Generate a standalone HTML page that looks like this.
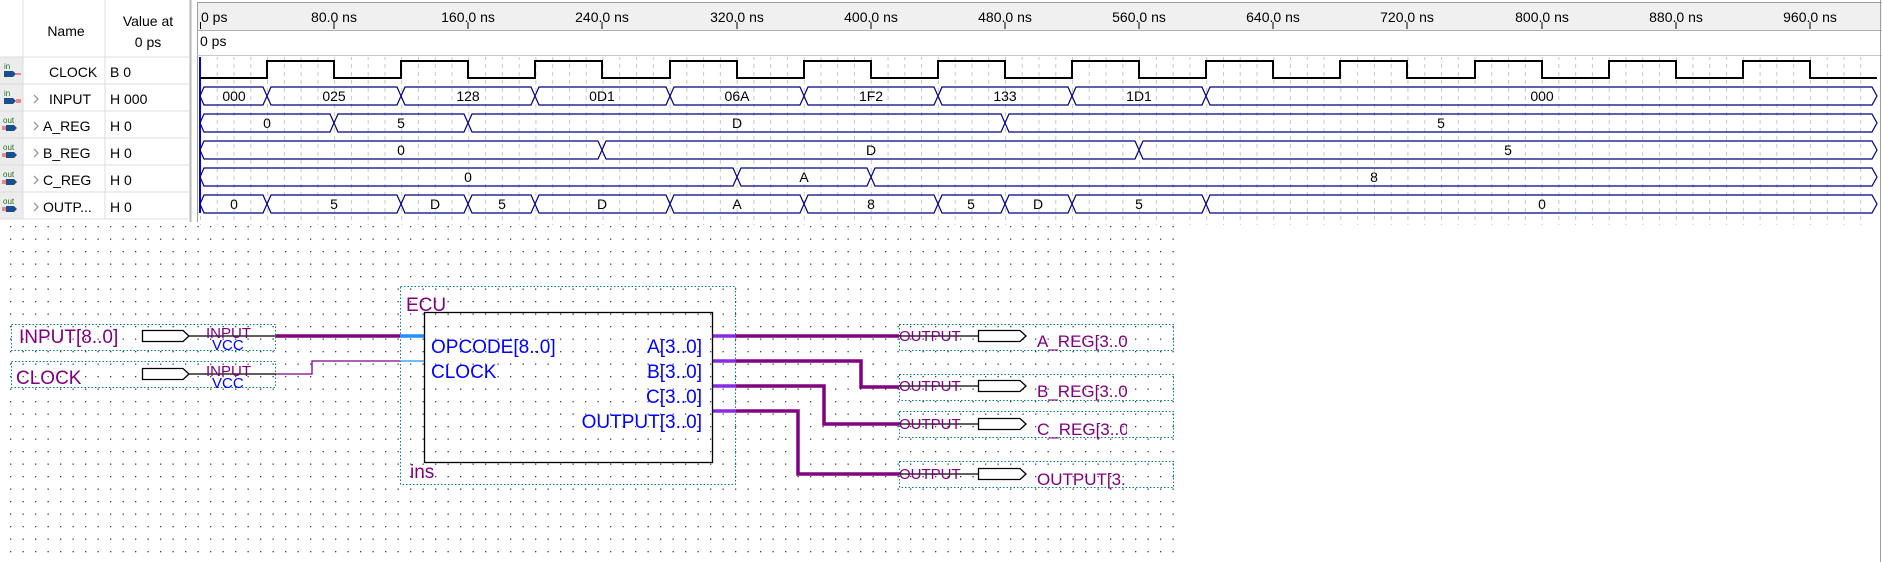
<!DOCTYPE html>
<html><head><meta charset="utf-8"><style>
html,body{margin:0;padding:0;background:#fff;width:1882px;height:562px;overflow:hidden}
svg{display:block}
text{font-family:"Liberation Sans","DejaVu Sans",sans-serif}
</style></head><body>
<svg width="1882" height="562" viewBox="0 0 1882 562" xmlns="http://www.w3.org/2000/svg">
<defs>
<pattern id="dots" x="10" y="226" width="12.5" height="12.5" patternUnits="userSpaceOnUse"><rect x="0" y="0" width="1.3" height="1.3" fill="#404040"/></pattern>
<pattern id="vgrid" x="200" y="0" width="16.77" height="8" patternUnits="userSpaceOnUse"><rect x="0" y="0" width="1" height="4" fill="#c8c8c8"/></pattern>
<clipPath id="c1"><rect x="1030" y="320" width="97" height="175"/></clipPath>
</defs>
<rect x="0" y="0" width="192" height="222" fill="#fff"/>
<rect x="0" y="57" width="23" height="162" fill="#ececec"/>
<line x1="23" y1="0" x2="23" y2="219" stroke="#dcdcdc"/>
<line x1="105" y1="0" x2="105" y2="219" stroke="#dcdcdc"/>
<line x1="190.5" y1="0" x2="190.5" y2="222" stroke="#b8b8b8" stroke-width="2"/>
<g stroke="#dcdcdc"><line x1="0" y1="57" x2="190" y2="57"/><line x1="0" y1="84" x2="190" y2="84"/><line x1="0" y1="111" x2="190" y2="111"/><line x1="0" y1="138" x2="190" y2="138"/><line x1="0" y1="165" x2="190" y2="165"/><line x1="0" y1="192" x2="190" y2="192"/><line x1="0" y1="219" x2="190" y2="219"/></g>
<g font-size="14" fill="#000">
<text x="66" y="36" text-anchor="middle">Name</text>
<text x="148" y="26" text-anchor="middle">Value at</text>
<text x="148" y="47" text-anchor="middle">0 ps</text>
<text x="49" y="77">CLOCK</text><text x="110" y="77">B 0</text>
<text x="49" y="104">INPUT</text><text x="110" y="104">H 000</text>
<text x="43" y="131">A_REG</text><text x="110" y="131">H 0</text>
<text x="43" y="158">B_REG</text><text x="110" y="158">H 0</text>
<text x="43" y="185">C_REG</text><text x="110" y="185">H 0</text>
<text x="43" y="212">OUTP...</text><text x="110" y="212">H 0</text>
</g>
<g fill="none" stroke="#999" stroke-width="1.3"><path d="M34 95 l4 4 l-4 4"/><path d="M34 122 l4 4 l-4 4"/><path d="M34 149 l4 4 l-4 4"/><path d="M34 176 l4 4 l-4 4"/><path d="M34 203 l4 4 l-4 4"/></g>
<g font-size="8" fill="#207020">
<text x="4" y="69">in</text><text x="4" y="96">in</text>
<text x="3" y="123">out</text><text x="3" y="150">out</text><text x="3" y="177">out</text><text x="3" y="204">out</text>
</g>
<g fill="#1a4f8f">
<path d="M4 71 h9 l3 3 l-3 3 h-9z"/><path d="M4 98 h9 l3 3 l-3 3 h-9z"/>
<path d="M6 125 h8 l3 3 l-3 3 h-8z"/><path d="M6 152 h8 l3 3 l-3 3 h-8z"/><path d="M6 179 h8 l3 3 l-3 3 h-8z"/><path d="M6 206 h8 l3 3 l-3 3 h-8z"/>
</g>
<g stroke="#e02020" stroke-width="1"><line x1="16" y1="74" x2="21" y2="74"/><line x1="16" y1="100" x2="21" y2="100"/><line x1="16" y1="102" x2="21" y2="102"/>
<line x1="2" y1="127" x2="6" y2="127"/><line x1="2" y1="129" x2="6" y2="129"/><line x1="2" y1="154" x2="6" y2="154"/><line x1="2" y1="156" x2="6" y2="156"/><line x1="2" y1="181" x2="6" y2="181"/><line x1="2" y1="183" x2="6" y2="183"/><line x1="2" y1="208" x2="6" y2="208"/><line x1="2" y1="210" x2="6" y2="210"/></g>

<rect x="197" y="2" width="1685" height="28" fill="#f0f0f0"/>
<line x1="197" y1="2.5" x2="1882" y2="2.5" stroke="#a0a0a0"/>
<line x1="197.5" y1="2" x2="197.5" y2="222" stroke="#a0a0a0"/>
<line x1="197" y1="30.5" x2="1882" y2="30.5" stroke="#b0b0b0"/>
<line x1="197" y1="55.5" x2="1882" y2="55.5" stroke="#c8c8c8"/>
<line x1="1880.5" y1="0" x2="1880.5" y2="562" stroke="#a0a0a0"/>
<rect x="200" y="57" width="1677" height="168" fill="url(#vgrid)"/>
<g font-size="14" fill="#000">
<text x="201" y="22">0 ps</text>
<text x="334" y="22" text-anchor="middle">80.0 ns</text><text x="468" y="22" text-anchor="middle">160.0 ns</text><text x="602" y="22" text-anchor="middle">240.0 ns</text><text x="737" y="22" text-anchor="middle">320.0 ns</text><text x="871" y="22" text-anchor="middle">400.0 ns</text><text x="1005" y="22" text-anchor="middle">480.0 ns</text><text x="1139" y="22" text-anchor="middle">560.0 ns</text><text x="1273" y="22" text-anchor="middle">640.0 ns</text><text x="1407" y="22" text-anchor="middle">720.0 ns</text><text x="1542" y="22" text-anchor="middle">800.0 ns</text><text x="1676" y="22" text-anchor="middle">880.0 ns</text><text x="1810" y="22" text-anchor="middle">960.0 ns</text>
<text x="200" y="46">0 ps</text>
</g>
<g stroke="#000"><line x1="200.5" y1="22" x2="200.5" y2="29"/><line x1="334" y1="22" x2="334" y2="29"/><line x1="468" y1="22" x2="468" y2="29"/><line x1="602" y1="22" x2="602" y2="29"/><line x1="737" y1="22" x2="737" y2="29"/><line x1="871" y1="22" x2="871" y2="29"/><line x1="1005" y1="22" x2="1005" y2="29"/><line x1="1139" y1="22" x2="1139" y2="29"/><line x1="1273" y1="22" x2="1273" y2="29"/><line x1="1407" y1="22" x2="1407" y2="29"/><line x1="1542" y1="22" x2="1542" y2="29"/><line x1="1676" y1="22" x2="1676" y2="29"/><line x1="1810" y1="22" x2="1810" y2="29"/></g>
<line x1="200" y1="57" x2="200" y2="213" stroke="#0000ff" stroke-width="2"/>
<path d="M200 78 H267 V61 H334 V78 H401 V61 H468 V78 H535 V61 H602 V78 H670 V61 H737 V78 H804 V61 H871 V78 H938 V61 H1005 V78 H1072 V61 H1139 V78 H1206 V61 H1273 V78 H1340 V61 H1407 V78 H1475 V61 H1542 V78 H1609 V61 H1676 V78 H1743 V61 H1810 V78 H1877" fill="none" stroke="#000" stroke-width="2"/>
<g fill="none" stroke="#000080" stroke-width="1.2">
<path d="M200 96 L204 87 H263 L267 96 L263 105 H204Z M267 96 L271 87 H397 L401 96 L397 105 H271Z M401 96 L405 87 H531 L535 96 L531 105 H405Z M535 96 L539 87 H666 L670 96 L666 105 H539Z M670 96 L674 87 H800 L804 96 L800 105 H674Z M804 96 L808 87 H934 L938 96 L934 105 H808Z M938 96 L942 87 H1068 L1072 96 L1068 105 H942Z M1072 96 L1076 87 H1202 L1206 96 L1202 105 H1076Z M1206 96 L1210 87 H1872 L1877 96 L1872 105 H1210Z"/>
<path d="M200 123 L204 114 H330 L334 123 L330 132 H204Z M334 123 L338 114 H464 L468 123 L464 132 H338Z M468 123 L472 114 H1001 L1005 123 L1001 132 H472Z M1005 123 L1009 114 H1872 L1877 123 L1872 132 H1009Z"/>
<path d="M200 150 L204 141 H598 L602 150 L598 159 H204Z M602 150 L606 141 H1135 L1139 150 L1135 159 H606Z M1139 150 L1143 141 H1872 L1877 150 L1872 159 H1143Z"/>
<path d="M200 177 L204 168 H733 L737 177 L733 186 H204Z M737 177 L741 168 H867 L871 177 L867 186 H741Z M871 177 L875 168 H1872 L1877 177 L1872 186 H875Z"/>
<path d="M200 204 L204 195 H263 L267 204 L263 213 H204Z M267 204 L271 195 H397 L401 204 L397 213 H271Z M401 204 L405 195 H464 L468 204 L464 213 H405Z M468 204 L472 195 H531 L535 204 L531 213 H472Z M535 204 L539 195 H666 L670 204 L666 213 H539Z M670 204 L674 195 H800 L804 204 L800 213 H674Z M804 204 L808 195 H934 L938 204 L934 213 H808Z M938 204 L942 195 H1001 L1005 204 L1001 213 H942Z M1005 204 L1009 195 H1068 L1072 204 L1068 213 H1009Z M1072 204 L1076 195 H1202 L1206 204 L1202 213 H1076Z M1206 204 L1210 195 H1872 L1877 204 L1872 213 H1210Z"/>
</g>
<g font-size="14" fill="#000" text-anchor="middle">
<text x="234" y="101">000</text><text x="334" y="101">025</text><text x="468" y="101">128</text><text x="602" y="101">0D1</text><text x="737" y="101">06A</text><text x="871" y="101">1F2</text><text x="1005" y="101">133</text><text x="1139" y="101">1D1</text><text x="1542" y="101">000</text>
<text x="267" y="128">0</text><text x="401" y="128">5</text><text x="737" y="128">D</text><text x="1441" y="128">5</text>
<text x="401" y="155">0</text><text x="871" y="155">D</text><text x="1508" y="155">5</text>
<text x="468" y="182">0</text><text x="804" y="182">A</text><text x="1374" y="182">8</text>
<text x="234" y="209">0</text><text x="334" y="209">5</text><text x="435" y="209">D</text><text x="502" y="209">5</text><text x="602" y="209">D</text><text x="737" y="209">A</text><text x="871" y="209">8</text><text x="971" y="209">5</text><text x="1038" y="209">D</text><text x="1139" y="209">5</text><text x="1542" y="209">0</text>
</g>

<rect x="8" y="224" width="1168" height="338" fill="url(#dots)"/>
<g fill="none" stroke="#008080" stroke-width="1" stroke-dasharray="1.5 2">
<rect x="11.5" y="324.5" width="264" height="26"/>
<rect x="11.5" y="361.5" width="264" height="26"/>
<rect x="400.5" y="286.5" width="335" height="198"/>
<rect x="899.5" y="324.5" width="274" height="26"/>
<rect x="899.5" y="374.5" width="274" height="26"/>
<rect x="899.5" y="411.5" width="274" height="26"/>
<rect x="899.5" y="461.5" width="274" height="26"/>
</g>
<g fill="#fff" stroke="#000" stroke-width="1.3">
<path d="M142.5 330.5 H183 L189 336 L183 341.5 H142.5Z"/>
<path d="M142.5 368.5 H183 L189 374 L183 379.5 H142.5Z"/>
<path d="M978.5 330.5 H1020 L1026 336 L1020 341.5 H978.5Z"/>
<path d="M978.5 380.5 H1020 L1026 386 L1020 391.5 H978.5Z"/>
<path d="M978.5 418.5 H1020 L1026 424 L1020 429.5 H978.5Z"/>
<path d="M978.5 468.5 H1020 L1026 474 L1020 479.5 H978.5Z"/>
</g>
<g stroke="#000" stroke-width="1.2"><line x1="189" y1="336" x2="276" y2="336"/><line x1="189" y1="374" x2="276" y2="374"/>
<line x1="899" y1="336" x2="978" y2="336"/><line x1="899" y1="386" x2="978" y2="386"/><line x1="899" y1="424" x2="978" y2="424"/><line x1="899" y1="474" x2="978" y2="474"/></g>
<g fill="none" stroke="#800080">
<line x1="276" y1="336" x2="400" y2="336" stroke-width="3.5"/>
<path d="M276 374 H312 V361 H400" stroke-width="1.3"/>
<path d="M736 336 H899" stroke-width="3.5"/>
<path d="M736 361 H861 V387 H899" stroke-width="3.5"/>
<path d="M736 386 H824 V424 H899" stroke-width="3.5"/>
<path d="M736 411 H798 V474 H899" stroke-width="3.5"/>
</g>
<line x1="400" y1="336" x2="425" y2="336" stroke="#1e90ff" stroke-width="3.5"/>
<line x1="400" y1="361" x2="425" y2="361" stroke="#1e90ff" stroke-width="1.3"/>
<g stroke="#8a2be2" stroke-width="3.5"><line x1="713" y1="336" x2="736" y2="336"/><line x1="713" y1="361" x2="736" y2="361"/><line x1="713" y1="386" x2="736" y2="386"/><line x1="713" y1="411" x2="736" y2="411"/></g>
<rect x="424.5" y="312.5" width="288" height="150" fill="none" stroke="#000" stroke-width="1.3"/>
<g fill="#800080">
<text x="19" y="343" font-size="19">INPUT[8..0]</text>
<text x="16" y="384" font-size="19">CLOCK</text>
<text x="206" y="338" font-size="15">INPUT</text>
<text x="206" y="376" font-size="15">INPUT</text>
<text x="406" y="311" font-size="19">ECU</text>
<text x="410" y="478" font-size="19">ins</text>
<text x="899" y="341" font-size="15">OUTPUT</text>
<text x="899" y="391" font-size="15">OUTPUT</text>
<text x="899" y="429" font-size="15">OUTPUT</text>
<text x="899" y="479" font-size="15">OUTPUT</text>
<g clip-path="url(#c1)" font-size="17">
<text x="1037" y="347">A_REG[3..0]</text>
<text x="1037" y="397">B_REG[3..0]</text>
<text x="1037" y="435">C_REG[3..0]</text>
<text x="1037" y="485">OUTPUT[3..0]</text>
</g>
</g>
<g fill="#0000ff" font-size="19">
<text x="212" y="350" font-size="15">VCC</text>
<text x="212" y="388" font-size="15">VCC</text>
<text x="431" y="353">OPCODE[8..0]</text>
<text x="431" y="378">CLOCK</text>
<text x="702" y="353" text-anchor="end">A[3..0]</text>
<text x="702" y="378" text-anchor="end">B[3..0]</text>
<text x="702" y="403" text-anchor="end">C[3..0]</text>
<text x="702" y="428" text-anchor="end">OUTPUT[3..0]</text>
</g>
</svg>
</body></html>
